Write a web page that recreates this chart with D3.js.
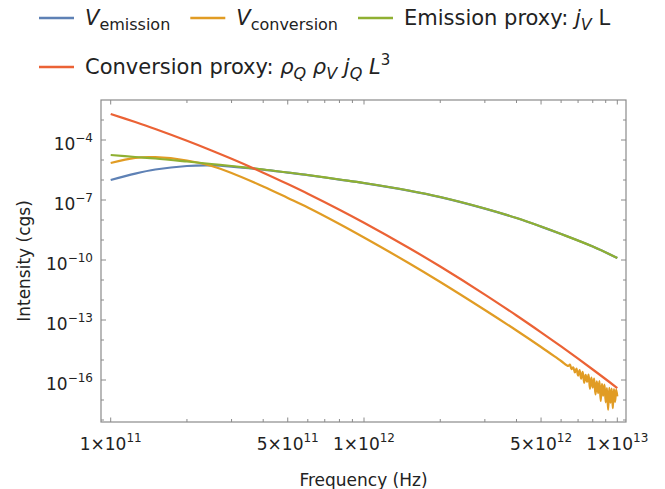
<!DOCTYPE html>
<html>
<head>
<meta charset="utf-8">
<script src="https://cdn.jsdelivr.net/npm/d3@7"></script>
<style>
  body { margin: 0; background: #fff; }
  svg { display: block; font-family: "DejaVu Sans", sans-serif; }
  text { white-space: pre; }
</style>
</head>
<body>
<svg id="chart" width="665" height="489"></svg>
<script>
// Frequency grid shared by the smooth curves (Hz)
const frequencies = [1e11, 1.25e11, 1.5e11, 2e11, 2.5e11, 3e11, 4e11, 5e11, 6e11, 8e11,
  1e12, 1.5e12, 2e12, 3e12, 4e12, 5e12, 6e12, 8e12, 1e13];

// Series values (cgs)
const vEmission = [1.0e-6, 2.1e-6, 3.35e-6, 5.0e-6, 5.3e-6, 4.7e-6, 3.3e-6, 2.34e-6, 1.76e-6, 1.05e-6,
  7.0e-7, 2.96e-7, 1.4e-7, 3.72e-8, 1.25e-8, 4.68e-9, 1.98e-9, 4.68e-10, 1.25e-10];
const emissionProxy = [1.78e-5, 1.41e-5, 1.19e-5, 8.41e-6, 6.31e-6, 5.01e-6, 3.35e-6, 2.37e-6, 1.78e-6, 1.06e-6,
  7.08e-7, 2.99e-7, 1.41e-7, 3.76e-8, 1.26e-8, 4.73e-9, 2.0e-9, 4.73e-10, 1.26e-10];
const conversionProxy = [2.0e-3, 7.87e-4, 3.53e-4, 9.1e-5, 2.98e-5, 1.14e-5, 2.32e-6, 6.25e-7, 2.06e-7, 3.26e-8,
  7.28e-9, 4.10e-10, 4.70e-11, 1.87e-12, 1.68e-13, 2.42e-14, 4.76e-15, 3.35e-16, 3.98e-17];
// V_conversion: smooth part on the first 17 grid points, then the noisy tail
const vConversion = [7.08e-6, 1.29e-5, 1.38e-5, 9.44e-6, 5.01e-6, 2.24e-6, 4.73e-7, 1.26e-7, 4.22e-8, 6.31e-9,
  1.33e-9, 7.08e-11, 7.94e-12, 3.16e-13, 2.99e-14, 4.47e-15, 8.9e-16];
const vConversionTailFreq = [6.4e12, 6.5e12, 6.6e12, 6.7e12, 6.8e12, 6.9e12, 7.0e12, 7.1e12, 7.2e12, 7.3e12,
  7.4e12, 7.5e12, 7.6e12, 7.7e12, 7.8e12, 7.9e12, 8.0e12, 8.1e12, 8.2e12, 8.3e12, 8.4e12, 8.5e12, 8.6e12,
  8.7e12, 8.8e12, 8.9e12, 9.0e12, 9.1e12, 9.2e12, 9.3e12, 9.4e12, 9.5e12, 9.6e12, 9.7e12, 9.8e12, 9.9e12, 1e13];
const vConversionTail = [5.07e-16, 5.89e-16, 3.47e-16, 4.31e-16, 2.37e-16, 3.76e-16, 1.66e-16, 3.13e-16,
  1.16e-16, 2.57e-16, 7.2e-17, 1.82e-16, 8.2e-17, 1.84e-16, 3.67e-17, 1.30e-16, 4.17e-17, 1.19e-16,
  1.88e-17, 8.6e-17, 2.19e-17, 8.8e-17, 8.9e-18, 6.4e-17, 1.64e-17, 5.9e-17, 7.6e-18, 3.89e-17, 3.2e-18,
  4.07e-17, 7.3e-18, 3.76e-17, 3.89e-18, 3.55e-17, 8.1e-18, 3.35e-17, 1.53e-17];

// Ticks and labels
const xMajorTicks = [1e11, 5e11, 1e12, 5e12, 1e13];
const xTickLabels = [["1", "11"], ["5", "11"], ["1", "12"], ["5", "12"], ["1", "13"]];
const xMinorTicks = [2e11, 3e11, 4e11, 6e11, 7e11, 8e11, 9e11, 2e12, 3e12, 4e12, 6e12, 7e12, 8e12, 9e12];
const yMajorTicks = [1e-4, 1e-7, 1e-10, 1e-13, 1e-16];
const yTickLabels = ["\u22124", "\u22127", "\u221210", "\u221213", "\u221216"];
const yMinorTicks = [1e-3, 1e-5, 1e-6, 1e-8, 1e-9, 1e-11, 1e-12, 1e-14, 1e-15, 1e-17, 1e-18];

const colors = { blue: "#5E81B5", orange: "#E19C24", green: "#8FB032", red: "#EB6235" };

const margin = { top: 100, right: 39, bottom: 67, left: 101 };
const innerWidth = 665 - margin.left - margin.right;
const innerHeight = 489 - margin.top - margin.bottom;

const svg = d3.select("#chart");
const bounds = svg.append("g")
  .attr("transform", `translate(${margin.left},${margin.top})`);

const xScale = d3.scaleLog().domain([1e11, 1e13]).range([9.7, 516.3]);
const yScale = d3.scaleLog().domain([1e-16, 1e-4]).range([280, 40]);

// Frame with inward ticks on all four sides
const frameColor = "#8a8a8a";
bounds.append("rect")
  .attr("x", 0).attr("y", 0)
  .attr("width", innerWidth).attr("height", innerHeight)
  .attr("fill", "none").attr("stroke", frameColor).attr("stroke-width", 1.2);

const xTicks = xMajorTicks.map(v => ({ v, len: 4.5 })).concat(xMinorTicks.map(v => ({ v, len: 3 })));
const yTicks = yMajorTicks.map(v => ({ v, len: 5 })).concat(yMinorTicks.map(v => ({ v, len: 3 })));

bounds.selectAll(".xtick-b").data(xTicks).join("line")
  .attr("x1", d => xScale(d.v)).attr("x2", d => xScale(d.v))
  .attr("y1", innerHeight).attr("y2", d => innerHeight - d.len)
  .attr("stroke", frameColor);
bounds.selectAll(".xtick-t").data(xTicks).join("line")
  .attr("x1", d => xScale(d.v)).attr("x2", d => xScale(d.v))
  .attr("y1", 0).attr("y2", d => d.len)
  .attr("stroke", frameColor);
bounds.selectAll(".ytick-l").data(yTicks).join("line")
  .attr("y1", d => yScale(d.v)).attr("y2", d => yScale(d.v))
  .attr("x1", 0).attr("x2", d => d.len)
  .attr("stroke", frameColor);
bounds.selectAll(".ytick-r").data(yTicks).join("line")
  .attr("y1", d => yScale(d.v)).attr("y2", d => yScale(d.v))
  .attr("x1", innerWidth).attr("x2", d => innerWidth - d.len)
  .attr("stroke", frameColor);

// Tick labels (10 with superscript exponent)
const yLabels = bounds.selectAll(".ylab").data(yMajorTicks).join("text")
  .attr("class", "ylab")
  .attr("x", -8)
  .attr("y", d => yScale(d) + 10)
  .attr("text-anchor", "end")
  .attr("font-size", 17)
  .attr("fill", "#222");
yLabels.append("tspan").text("10");
yLabels.append("tspan").attr("dy", -8).attr("font-size", 12).text((d, i) => yTickLabels[i]);

const xLabels = bounds.selectAll(".xlab").data(xMajorTicks).join("text")
  .attr("class", "xlab")
  .attr("x", d => xScale(d))
  .attr("y", innerHeight + 28)
  .attr("text-anchor", "middle")
  .attr("font-size", 17)
  .attr("fill", "#222");
xLabels.append("tspan").text((d, i) => xTickLabels[i][0] + "\u00d710");
xLabels.append("tspan").attr("dy", -8).attr("font-size", 12).text((d, i) => xTickLabels[i][1]);

// Axis titles
bounds.append("text")
  .attr("x", innerWidth / 2).attr("y", innerHeight + 64)
  .attr("text-anchor", "middle").attr("font-size", 17).attr("fill", "#222")
  .text("Frequency (Hz)");
bounds.append("text")
  .attr("transform", `translate(${-71},${innerHeight / 2}) rotate(-90)`)
  .attr("text-anchor", "middle").attr("font-size", 17).attr("fill", "#222")
  .text("Intensity (cgs)");

// Curves
const line = d3.line()
  .x(d => xScale(d[0]))
  .y(d => yScale(d[1]))
  .curve(d3.curveCatmullRom.alpha(0.5));

const conversionPoints = frequencies.slice(0, vConversion.length).map((f, i) => [f, vConversion[i]])
  .concat(vConversionTailFreq.map((f, i) => [f, vConversionTail[i]]));

const series = [
  { pts: frequencies.map((f, i) => [f, vEmission[i]]), color: colors.blue },
  { pts: conversionPoints, color: colors.orange },
  { pts: frequencies.map((f, i) => [f, emissionProxy[i]]), color: colors.green },
  { pts: frequencies.map((f, i) => [f, conversionProxy[i]]), color: colors.red }
];

bounds.selectAll(".curve").data(series).join("path")
  .attr("class", "curve")
  .attr("d", d => line(d.pts))
  .attr("fill", "none")
  .attr("stroke", d => d.color)
  .attr("stroke-width", 2.2)
  .attr("stroke-linejoin", "round");

// Legend
const legendRows = [
  { y: 25, items: [
    { color: colors.blue, parts: [{ t: "V", it: true }, { t: "emission", sub: true }] },
    { color: colors.orange, parts: [{ t: "V", it: true }, { t: "conversion", sub: true }] },
    { color: colors.green, parts: [{ t: "Emission proxy: " }, { t: "j", it: true }, { t: "V", it: true, sub: true }, { t: " L" }] }
  ] },
  { y: 74, items: [
    { color: colors.red, parts: [{ t: "Conversion proxy: " }, { t: "\u03c1", it: true }, { t: "Q", it: true, sub: true },
      { t: " " }, { t: "\u03c1", it: true }, { t: "V", it: true, sub: true },
      { t: " " }, { t: "j", it: true }, { t: "Q", it: true, sub: true },
      { t: " " }, { t: "L", it: true }, { t: "3", sup: true }] }
  ] }
];

const legend = svg.append("g");
legendRows.forEach(row => {
  let x = 39;
  row.items.forEach(item => {
    legend.append("line")
      .attr("x1", x).attr("x2", x + 35)
      .attr("y1", row.y - 7).attr("y2", row.y - 7)
      .attr("stroke", item.color).attr("stroke-width", 2.5);
    const txt = legend.append("text")
      .attr("x", x + 46).attr("y", row.y)
      .attr("font-size", 21).attr("fill", "#222");
    let shift = 0;
    item.parts.forEach(p => {
      const target = p.sub ? 5 : p.sup ? -9 : 0;
      txt.append("tspan")
        .attr("dy", target - shift)
        .attr("font-size", p.sub ? 16 : p.sup ? 15 : 21)
        .attr("font-style", p.it ? "italic" : "normal")
        .text(p.t);
      shift = target;
    });
    x += 46 + txt.node().getComputedTextLength() + 20;
  });
});
</script>
</body>
</html>
